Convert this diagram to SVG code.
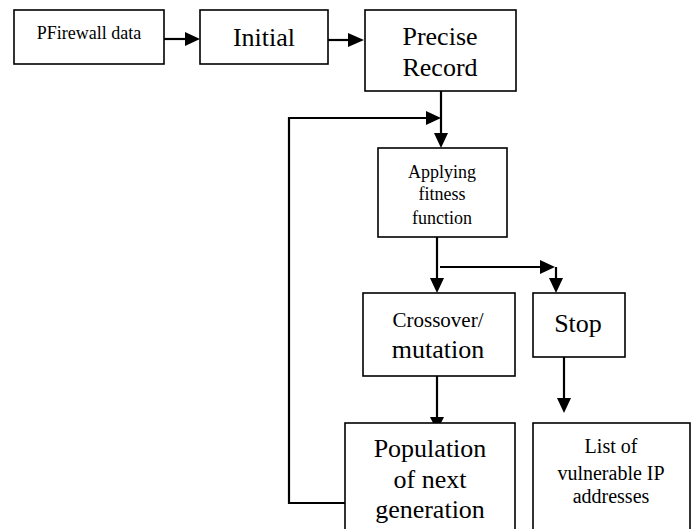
<svg xmlns="http://www.w3.org/2000/svg" width="694" height="529" viewBox="0 0 694 529">
<defs>
<style>
.box{fill:#fff;stroke:#000;stroke-width:1.6}
.ln{fill:none;stroke:#000;stroke-width:2.2}
.ah{fill:#000;stroke:none}
text{font-family:"Liberation Serif","Times New Roman",serif;fill:#000;text-anchor:middle}
</style>
</defs>
<rect width="694" height="529" fill="#fff"/>
<g id="connectors">
<line class="ln" x1="164" y1="39" x2="186" y2="39"/>
<polygon class="ah" points="200,39 185,32 185,46"/>
<line class="ln" x1="328" y1="40" x2="349" y2="40"/>
<polygon class="ah" points="364,40 348,33 348,47"/>
<line class="ln" x1="441" y1="91" x2="441" y2="135"/>
<polygon class="ah" points="441,148 434,133 448,133"/>
<polyline class="ln" points="345,503 289,503 289,118 427,118"/>
<polygon class="ah" points="441,118 426,111 426,125"/>
<line class="ln" x1="437" y1="237" x2="437" y2="280"/>
<polygon class="ah" points="437,293 430,278 444,278"/>
<line class="ln" x1="440" y1="267" x2="541" y2="267"/>
<polygon class="ah" points="555,267 540,260 540,274"/>
<line class="ln" x1="556" y1="267" x2="556" y2="280"/>
<polygon class="ah" points="556,293 549,278 563,278"/>
<line class="ln" x1="564" y1="357" x2="564" y2="400"/>
<polygon class="ah" points="564,413 557,398 571,398"/>
<line class="ln" x1="437" y1="376" x2="437" y2="420"/>
<polygon class="ah" points="437,431 430,417 444,417"/>
</g>
<g id="pfirewall">
<rect class="box" x="14" y="10" width="150" height="54"/>
<text x="89" y="39" font-size="18">PFirewall data</text>
</g>
<g id="initial">
<rect class="box" x="200" y="10" width="128" height="54"/>
<text x="264" y="46" font-size="26">Initial</text>
</g>
<g id="precise">
<rect class="box" x="365" y="10" width="151" height="81"/>
<text x="440" y="45" font-size="26">Precise</text>
<text x="440" y="76" font-size="26">Record</text>
</g>
<g id="fitness">
<rect class="box" x="378" y="148" width="129" height="89"/>
<text x="442" y="178" font-size="18">Applying</text>
<text x="442" y="200" font-size="18">fitness</text>
<text x="442" y="224" font-size="18">function</text>
</g>
<g id="crossover">
<rect class="box" x="363" y="293" width="152" height="83"/>
<text x="438" y="327" font-size="21">Crossover/</text>
<text x="438" y="358" font-size="26">mutation</text>
</g>
<g id="stop">
<rect class="box" x="533" y="293" width="92" height="64"/>
<text x="578" y="332" font-size="26">Stop</text>
</g>
<g id="population">
<rect class="box" x="345" y="423" width="170" height="115"/>
<text x="430" y="457" font-size="26">Population</text>
<text x="430" y="488" font-size="26">of next</text>
<text x="430" y="518" font-size="26">generation</text>
</g>
<g id="list">
<rect class="box" x="533" y="423" width="157" height="115"/>
<text x="611" y="453" font-size="20">List of</text>
<text x="611" y="480" font-size="20">vulnerable IP</text>
<text x="611" y="503" font-size="20">addresses</text>
</g>
</svg>
